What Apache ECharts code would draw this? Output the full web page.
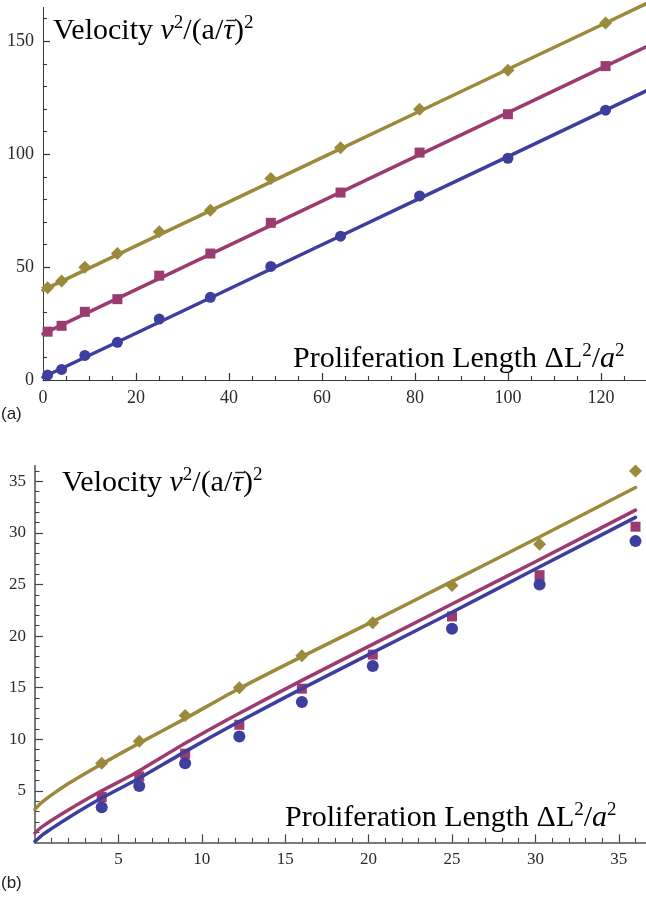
<!DOCTYPE html>
<html><head><meta charset="utf-8">
<script src="https://cdn.jsdelivr.net/npm/echarts@6/dist/echarts.min.js"></script>
<style>html,body{margin:0;padding:0;background:#fff}#c{width:646px;height:898px}</style>
</head><body><div id="c"></div>
<script>
// ---------- Panel (a) ----------
const xA = [1, 4, 9, 16, 25, 36, 49, 64, 81, 100, 121];
const blueA = [2.2, 4.7, 10.9, 16.7, 27.0, 36.6, 50.3, 63.7, 81.5, 98.2, 119.5];
const purpleA = [21.4, 24.0, 30.2, 35.8, 46.2, 56.0, 69.6, 83.0, 100.7, 117.7, 139.0];
const oliveA = [40.8, 43.8, 49.9, 56.0, 65.6, 75.2, 89.2, 102.8, 119.9, 137.2, 158.1];
const lineXA = [0, 20, 40, 60, 80, 100, 120, 130];
const blueLineA = [1.2, 20.7, 40.3, 59.9, 79.4, 98.9, 118.5, 128.3];
const purpleLineA = [20.4, 40.0, 59.6, 79.2, 98.8, 118.4, 138.0, 147.8];
const oliveLineA = [39.8, 59.4, 78.9, 98.5, 118.0, 137.6, 157.1, 166.9];
const xMajorA = [0, 20, 40, 60, 80, 100, 120];
const xMinorA = [5, 10, 15, 25, 30, 35, 45, 50, 55, 65, 70, 75, 85, 90, 95, 105, 110, 115, 125];
const yMajorA = [0, 50, 100, 150];
const yMinorA = [10, 20, 30, 40, 60, 70, 80, 90, 110, 120, 130, 140, 160];

// ---------- Panel (b) ----------
const xB = [4, 6.25, 9, 12.25, 16, 20.25, 25, 30.25, 36];
const blueB = [3.4, 5.46, 7.66, 10.27, 13.6, 17.1, 20.7, 25.0, 29.2];
const purpleB = [4.4, 6.4, 8.6, 11.4, 14.9, 18.2, 21.9, 25.9, 30.6];
const oliveB = [7.66, 9.8, 12.3, 15.0, 18.1, 21.3, 24.9, 28.9, 36.0];
const lineXB = [0, 0.25, 0.5, 1, 2, 4, 6, 9, 12, 16, 20, 25, 30, 36];
const blueLineB = [0.1, 0.45, 0.8, 1.35, 2.4, 4.3, 6.0, 8.8, 11.5, 14.9, 18.2, 22.3, 26.5, 31.5];
const purpleLineB = [0.9, 1.3, 1.6, 2.15, 3.15, 5.0, 6.7, 9.6, 12.3, 15.7, 19.0, 23.1, 27.2, 32.2];
const oliveLineB = [3.2, 3.65, 4.0, 4.6, 5.7, 7.6, 9.4, 12.0, 14.7, 18.0, 21.2, 25.3, 29.4, 34.4];
const xMajorB = [5, 10, 15, 20, 25, 30, 35];
const xMinorB = [1,2,3,4,6,7,8,9,11,12,13,14,16,17,18,19,21,22,23,24,26,27,28,29,31,32,33,34,36];
const yMajorB = [5, 10, 15, 20, 25, 30, 35];
const yMinorB = [1,2,3,4,6,7,8,9,11,12,13,14,16,17,18,19,21,22,23,24,26,27,28,29,31,32,33,34,36];

const C_BLUE = '#3e3e9f', C_PURPLE = '#9c3b6f', C_OLIVE = '#9b8a3b';
const zip = (xs, ys) => xs.map((x, i) => [x, ys[i]]);

function majorAxis(grid, pos, min, max, ticks, labels, opts) {
  return {
    type: 'value', gridIndex: grid, position: pos, min: min, max: max,
    axisLine: { show: true, onZero: false, lineStyle: { color: opts.lineColor, width: opts.lineWidth } },
    axisTick: { show: true, inside: true, length: opts.major, customValues: ticks, lineStyle: { color: opts.tickColor, width: 1.2 } },
    axisLabel: { show: true, customValues: labels, color: '#2a2a2a', fontFamily: 'Liberation Serif', fontSize: opts.fontSize, margin: opts.margin },
    splitLine: { show: false }
  };
}
function minorAxis(grid, pos, min, max, ticks, opts) {
  return {
    type: 'value', gridIndex: grid, position: pos, min: min, max: max,
    axisLine: { show: false, onZero: false },
    axisTick: { show: true, inside: true, length: opts.minor, customValues: ticks, lineStyle: { color: opts.tickColor, width: 1.1 } },
    axisLabel: { show: false },
    splitLine: { show: false }
  };
}

const optA = { lineColor: '#3a3a3a', lineWidth: 1, tickColor: '#333', major: 7, minor: 4, fontSize: 18, margin: 9 };
const optB = { lineColor: '#7a7a7a', lineWidth: 2, tickColor: '#444', major: 8, minor: 4.5, fontSize: 17, margin: 9 };

const serif = 'Liberation Serif';
const FS = 30, FSS = 19;
const rich = {
  n: { fontFamily: serif, fontSize: FS, lineHeight: 34, color: '#222', verticalAlign: 'middle' },
  i: { fontFamily: serif, fontSize: FS, lineHeight: 34, color: '#222', fontStyle: 'italic', verticalAlign: 'middle' },
  s: { fontFamily: serif, fontSize: FSS, lineHeight: 21, color: '#222', verticalAlign: 'top' }
};
const velText = '{n|Velocity }{i|v}{s|2}{n|/(a/}{i|\u03C4}{n|)}{s|2}';
const proText = '{n|Proliferation Length \u0394L}{s|2}{n|/}{i|a}{s|2}';

// locate the tau for its overline bar
const mctx = document.createElement('canvas').getContext('2d');
function tw(t, size, italic) { mctx.font = (italic ? 'italic ' : '') + size + 'px "' + serif + '"'; return mctx.measureText(t).width; }
const tauOff = tw('Velocity ', FS) + tw('v', FS, true) + tw('2', FSS) + tw('/(a/', FS);
const tauW = tw('\u03C4', FS, true);
function overline(left, top) {
  return { type: 'line', z: 10, silent: true,
    shape: { x1: left + tauOff + 3, y1: top + 6.5, x2: left + tauOff + tauW + 2, y2: top + 6.5 },
    style: { stroke: '#222', lineWidth: 1.4 } };
}

function scatter(xi, yi, name, xs, ys, sym, size, color, z) {
  return { type: 'scatter', xAxisIndex: xi, yAxisIndex: yi, name: name, data: zip(xs, ys),
    symbol: sym, symbolSize: size, itemStyle: { color: color, opacity: 1 }, z: z, silent: true };
}
function curve(xi, yi, name, xs, ys, color, smooth) {
  return { type: 'line', xAxisIndex: xi, yAxisIndex: yi, name: name, data: zip(xs, ys),
    showSymbol: false, smooth: smooth, clip: false,
    lineStyle: { color: color, width: 3.5, cap: 'round' }, z: 5, silent: true };
}

const gA = { left: 43, top: 7.4, width: 603, height: 372.6 };
const gB = { left: 35, top: 465.8, width: 610.5, height: 376.6 };

const option = {
  animation: false,
  backgroundColor: '#fff',
  grid: [gA, gB, Object.assign({}, gA), Object.assign({}, gB)],
  xAxis: [
    majorAxis(0, 'bottom', 0, 129.7, xMajorA, xMajorA, optA),
    majorAxis(1, 'bottom', 0, 36.6, xMajorB, xMajorB, optB),
    minorAxis(2, 'bottom', 0, 129.7, xMinorA, optA),
    minorAxis(3, 'bottom', 0, 36.6, xMinorB, optB)
  ],
  yAxis: [
    majorAxis(0, 'left', 0, 165, yMajorA, yMajorA, optA),
    majorAxis(1, 'left', 0, 36.5, yMajorB, yMajorB, optB),
    minorAxis(2, 'left', 0, 165, yMinorA, optA),
    minorAxis(3, 'left', 0, 36.5, yMinorB, optB)
  ],
  series: [
    scatter(0, 0, 'purpleA', xA, purpleA, 'rect', 10, C_PURPLE, 2),
    scatter(0, 0, 'oliveA', xA, oliveA, 'diamond', 13, C_OLIVE, 2),
    scatter(0, 0, 'blueA', xA, blueA, 'circle', 11, C_BLUE, 3),
    curve(0, 0, 'blueLineA', lineXA, blueLineA, C_BLUE, false),
    curve(0, 0, 'purpleLineA', lineXA, purpleLineA, C_PURPLE, false),
    curve(0, 0, 'oliveLineA', lineXA, oliveLineA, C_OLIVE, false),
    scatter(1, 1, 'purpleB', xB, purpleB, 'rect', 10, C_PURPLE, 2),
    scatter(1, 1, 'oliveB', xB, oliveB, 'diamond', 13, C_OLIVE, 2),
    scatter(1, 1, 'blueB', xB, blueB, 'circle', 12, C_BLUE, 3),
    curve(1, 1, 'blueLineB', lineXB, blueLineB, C_BLUE, 0.2),
    curve(1, 1, 'purpleLineB', lineXB, purpleLineB, C_PURPLE, 0.2),
    curve(1, 1, 'oliveLineB', lineXB, oliveLineB, C_OLIVE, 0.2)
  ],
  graphic: [
    { type: 'text', left: 53, top: 14, z: 10, style: { text: velText, rich: rich } },
    overline(53, 14),
    { type: 'text', left: 293, top: 342, z: 10, style: { text: proText, rich: rich } },
    { type: 'text', left: 62, top: 466, z: 10, style: { text: velText, rich: rich } },
    overline(62, 466),
    { type: 'text', left: 285, top: 801, z: 10, style: { text: proText, rich: rich } },
    { type: 'text', left: 1, top: 406, z: 10, style: { text: '(a)', fontFamily: 'Liberation Sans', fontSize: 17, fill: '#222' } },
    { type: 'text', left: 1, top: 875, z: 10, style: { text: '(b)', fontFamily: 'Liberation Sans', fontSize: 17, fill: '#222' } }
  ]
};

const chart = echarts.init(document.getElementById('c'), null, { renderer: 'canvas' });
chart.setOption(option);
</script>
</body></html>
